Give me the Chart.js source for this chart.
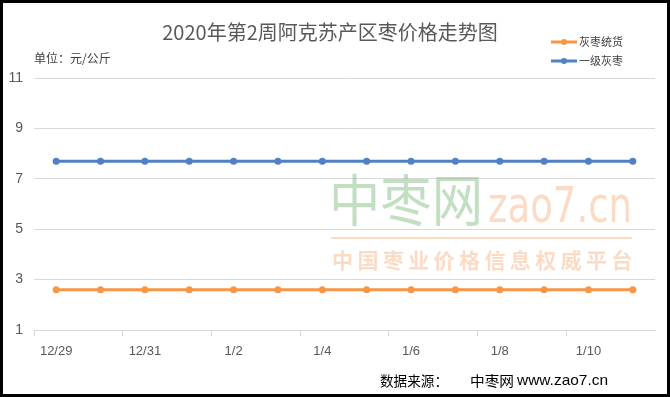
<!DOCTYPE html>
<html><head><meta charset="utf-8">
<script src="https://cdn.jsdelivr.net/npm/chart.js@4/dist/chart.umd.min.js"></script>
<style>html,body{margin:0;padding:0;background:#fff}#wrap{width:670px;height:397px;position:relative}</style>
</head><body><div id="wrap"><canvas id="c" width="670" height="397"></canvas></div>
<script>
const categories = ['12/29','12/30','12/31','1/1','1/2','1/3','1/4','1/5','1/6','1/7','1/8','1/9','1/10','1/11'];
const seriesNames = ['灰枣统货','一级灰枣'];
const huiZaoTongHuo = [2.6,2.6,2.6,2.6,2.6,2.6,2.6,2.6,2.6,2.6,2.6,2.6,2.6,2.6];
const yiJiHuiZao = [7.7,7.7,7.7,7.7,7.7,7.7,7.7,7.7,7.7,7.7,7.7,7.7,7.7,7.7];
const yTicks = [1,3,5,7,9,11];
const titleText = '2020年第2周阿克苏产区枣价格走势图';
const unitText = '单位：元/公斤';
const sourceParts = ['数据来源：', '中枣网', 'www.zao7.cn'];

const ORANGE = '#F79646', BLUE = '#4F81C4';
const CJK = '"Noto Sans CJK SC", "Liberation Sans", sans-serif';

function fitText(ctx, text, x, y, width) {
  const w = ctx.measureText(text).width;
  ctx.save();
  ctx.translate(x, y);
  ctx.scale(width / w, 1);
  ctx.fillText(text, 0, 0);
  ctx.restore();
}

const deco = {
  id: 'deco',
  beforeDraw(chart) {
    const ctx = chart.ctx;
    ctx.save();
    ctx.fillStyle = '#fff';
    ctx.fillRect(0, 0, chart.width, chart.height);
    ctx.restore();
  },
  beforeDatasetsDraw(chart) {
    const ctx = chart.ctx;
    ctx.save();
    ctx.textBaseline = 'alphabetic';
    ctx.textAlign = 'left';
    ctx.font = '56px ' + CJK;
    ctx.fillStyle = 'rgba(120,185,120,0.45)';
    fitText(ctx, '中枣网', 329, 221, 154);
    ctx.font = '50px "DejaVu Sans", sans-serif';
    ctx.fillStyle = 'rgba(250,190,150,0.55)';
    fitText(ctx, 'zao7.cn', 488, 222, 144);
    ctx.strokeStyle = 'rgba(250,190,150,0.55)';
    ctx.lineWidth = 2;
    ctx.beginPath(); ctx.moveTo(331, 238); ctx.lineTo(632, 238); ctx.stroke();
    ctx.font = 'bold 21px ' + CJK;
    const wm2 = '中国枣业价格信息权威平台';
    for (let i = 0; i < wm2.length; i++) ctx.fillText(wm2[i], 332 + i * 25.4, 268);
    ctx.restore();
  },
  afterDraw(chart) {
    const ctx = chart.ctx;
    ctx.save();
    ctx.fillStyle = '#595959';
    ctx.textAlign = 'center';
    ctx.textBaseline = 'middle';
    ctx.font = '20px ' + CJK;
    ctx.fillText(titleText, 330, 32);
    ctx.textAlign = 'left';
    ctx.font = '12px ' + CJK;
    ctx.fillStyle = '#404040';
    ctx.fillText(unitText, 34, 58);
    const items = [[seriesNames[0], ORANGE, 42], [seriesNames[1], BLUE, 61]];
    ctx.font = '11px ' + CJK;
    items.forEach(([t, c, y]) => {
      ctx.strokeStyle = c; ctx.lineWidth = 3;
      ctx.beginPath(); ctx.moveTo(551, y); ctx.lineTo(577, y); ctx.stroke();
      ctx.fillStyle = c; ctx.beginPath(); ctx.arc(564, y, 3, 0, Math.PI * 2); ctx.fill();
      ctx.fillStyle = '#404040'; ctx.fillText(t, 579, y);
    });
    ctx.font = '14px ' + CJK;
    ctx.fillStyle = '#000';
    fitText(ctx, sourceParts[0], 380, 381, 68);
    fitText(ctx, sourceParts[1], 470, 381, 44);
    ctx.font = '15px "Liberation Sans", sans-serif';
    fitText(ctx, sourceParts[2], 517, 381, 91);
    ctx.strokeStyle = '#000';
    ctx.lineWidth = 3;
    ctx.strokeRect(1.5, 1.5, chart.width - 3, chart.height - 3);
    ctx.restore();
  }
};

new Chart(document.getElementById('c'), {
  type: 'line',
  data: {
    labels: categories,
    datasets: [
      { label: seriesNames[0], data: huiZaoTongHuo, borderColor: ORANGE, backgroundColor: ORANGE,
        borderWidth: 3, pointRadius: 3.5, pointBackgroundColor: ORANGE, pointBorderWidth: 0, tension: 0 },
      { label: seriesNames[1], data: yiJiHuiZao, borderColor: BLUE, backgroundColor: BLUE,
        borderWidth: 3, pointRadius: 3.5, pointBackgroundColor: BLUE, pointBorderWidth: 0, tension: 0 }
    ]
  },
  options: {
    responsive: false,
    animation: false,
    devicePixelRatio: 1,
    layout: { padding: { left: 0, right: 15, top: 78, bottom: 37 } },
    plugins: { legend: { display: false }, title: { display: false }, tooltip: { enabled: false } },
    scales: {
      x: {
        type: 'category',
        offset: true,
        afterFit(s) { s.height = 30; },
        grid: {
          offset: true,
          drawOnChartArea: false,
          drawTicks: true,
          tickLength: 6,
          color: (ctx) => (ctx.index % 2 === 0 ? '#d9d9d9' : 'rgba(0,0,0,0)')
        },
        border: { display: true, color: '#d9d9d9', width: 1 },
        ticks: {
          autoSkip: false, maxRotation: 0, padding: 8,
          color: '#595959', font: { size: 13, family: '"Liberation Sans", sans-serif' },
          callback: function (v, i) { return i % 2 === 0 ? categories[i] : ''; }
        }
      },
      y: {
        min: yTicks[0], max: yTicks[yTicks.length - 1],
        afterFit(s) { s.width = 34; },
        afterBuildTicks(s) { s.ticks = yTicks.map(v => ({ value: v })); },
        grid: { color: '#d9d9d9', drawTicks: false },
        border: { display: false },
        ticks: { padding: 11, color: '#595959', font: { size: 14, family: '"Liberation Sans", sans-serif' } }
      }
    }
  },
  plugins: [deco]
});
</script></body></html>
